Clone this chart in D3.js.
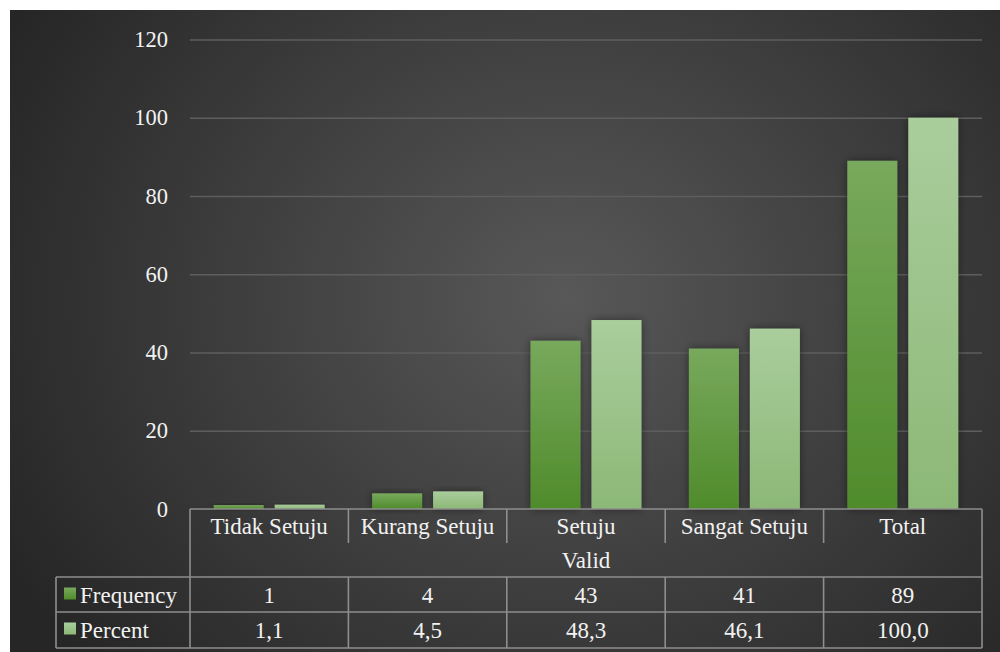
<!DOCTYPE html>
<html>
<head>
<meta charset="utf-8">
<script src="https://cdn.jsdelivr.net/npm/d3@7"></script>
<style>
  html, body { margin: 0; padding: 0; background: #fff; }
  svg { display: block; }
</style>
</head>
<body>
<svg id="chart" width="1000" height="652"></svg>
<script>
// Survey response categories and their counts / shares
const categories = ["Tidak Setuju", "Kurang Setuju", "Setuju", "Sangat Setuju", "Total"];
const groupLabel = "Valid";
const seriesNames = ["Frequency", "Percent"];
const frequency = [1, 4, 43, 41, 89];
const percent = [1.1, 4.5, 48.3, 46.1, 100.0];
const yTicks = [0, 20, 40, 60, 80, 100, 120];

const seriesValues = { Frequency: frequency, Percent: percent };
const fmt = {
  Frequency: d => String(d),
  Percent: d => d.toFixed(1).replace(".", ",")
};

// Pick the first installed Times-like face
function pickFont(cands) {
  const ctx = document.createElement("canvas").getContext("2d");
  const probe = "Frequency Setuju 0123456789 WMil";
  for (const base of ["monospace", "sans-serif"]) {
    ctx.font = `40px ${base}`;
    const w0 = ctx.measureText(probe).width;
    for (const f of cands) {
      ctx.font = `40px "${f}", ${base}`;
      if (Math.abs(ctx.measureText(probe).width - w0) > 0.5) return `"${f}", serif`;
    }
  }
  return "serif";
}
const FONT = pickFont(["Liberation Serif", "Tinos", "Times New Roman", "Noto Serif", "DejaVu Serif"]);

const W = 1000, H = 652;
const svg = d3.select("#chart");
const defs = svg.append("defs");

// Dark backdrop, lighter toward the middle
const bg = defs.append("radialGradient").attr("id", "bg")
  .attr("cx", "0.56").attr("cy", "0.45").attr("r", "0.64")
  .attr("gradientTransform", "translate(0.56,0.45) scale(1,1.35) translate(-0.56,-0.45)");
bg.append("stop").attr("offset", "0").attr("stop-color", "#585858");
bg.append("stop").attr("offset", "1").attr("stop-color", "#262626");

const gradSpec = {
  Frequency: ["#78a95c", "#4f8b2b"],
  Percent: ["#aacd9c", "#8cb877"]
};
Object.entries(gradSpec).forEach(([k, [top, bot]]) => {
  const g = defs.append("linearGradient").attr("id", "g-" + k)
    .attr("x1", 0).attr("y1", 0).attr("x2", 0).attr("y2", 1);
  g.append("stop").attr("offset", "0").attr("stop-color", top);
  g.append("stop").attr("offset", "1").attr("stop-color", bot);
});

const shadow = defs.append("filter").attr("id", "shadow")
  .attr("x", "-30%").attr("y", "-30%").attr("width", "160%").attr("height", "160%");
shadow.append("feDropShadow").attr("dx", 0).attr("dy", 0)
  .attr("stdDeviation", 4).attr("flood-color", "#000").attr("flood-opacity", 0.45);

svg.append("rect").attr("x", 10).attr("y", 10).attr("width", W - 10).attr("height", H - 10)
  .attr("fill", "url(#bg)");

// Layout
const plot = { left: 190, right: 982, top: 39.5, bottom: 509 };
const table = { left: 56, headerBottom: 543, validBottom: 577, freqBottom: 612, bottom: 648 };

const x = d3.scaleBand().domain(categories).range([plot.left, plot.right]).padding(0);
const xs = d3.scaleBand().domain(seriesNames).range([0, x.bandwidth()])
  .paddingInner(0.18).paddingOuter(0.389);
const y = d3.scaleLinear().domain([0, 120]).range([plot.bottom, plot.top]);

// Gridlines and y axis labels
const yAxis = d3.axisLeft(y).tickValues(yTicks).tickSize(-(plot.right - plot.left)).tickPadding(22)
  .tickFormat(d3.format("d"));
const ga = svg.append("g").attr("transform", `translate(${plot.left},0)`).call(yAxis);
ga.attr("font-family", null).attr("font-size", null);
ga.select(".domain").remove();
ga.selectAll(".tick line").attr("stroke", "#5e5e5e").attr("stroke-width", 1.5)
  .filter(d => d === 0).remove();
ga.selectAll(".tick text").attr("font-size", 22.5).attr("fill", "#f2f2f2")
  .style("font-family", FONT);

// Bars
const groups = svg.append("g").selectAll("g").data(categories).join("g")
  .attr("transform", c => `translate(${x(c)},0)`);
groups.selectAll("rect")
  .data((c, i) => seriesNames.map(s => ({ s, v: seriesValues[s][i] })))
  .join("rect")
  .attr("x", d => xs(d.s))
  .attr("width", xs.bandwidth())
  .attr("y", d => y(d.v))
  .attr("height", d => y(0) - y(d.v))
  .attr("fill", d => `url(#g-${d.s})`)
  .attr("filter", "url(#shadow)");

// Data table
const lineColor = "#8e8e8e";
const lines = svg.append("g").attr("stroke", lineColor).attr("stroke-width", 1.6).attr("fill", "none");
const hline = (x1, x2, yy) => lines.append("line").attr("x1", x1).attr("x2", x2).attr("y1", yy).attr("y2", yy);
const vline = (xx, y1, y2) => lines.append("line").attr("x1", xx).attr("x2", xx).attr("y1", y1).attr("y2", y2);

hline(plot.left, plot.right, plot.bottom);
hline(table.left, plot.right, table.validBottom);
hline(table.left, plot.right, table.freqBottom);
hline(table.left, plot.right, table.bottom);
vline(plot.left, plot.bottom, table.bottom);
vline(plot.right, plot.bottom, table.bottom);
vline(table.left, table.validBottom, table.bottom);
categories.slice(1).forEach(c => {
  vline(x(c), plot.bottom, table.headerBottom);
  vline(x(c), table.validBottom, table.bottom);
});

const fs = 23;
const txt = svg.append("g").attr("font-size", fs).attr("text-anchor", "middle")
  .attr("fill", "#f2f2f2").style("font-family", FONT);
txt.selectAll(".cat").data(categories).join("text").attr("class", "cat")
  .attr("x", c => x(c) + x.bandwidth() / 2).attr("y", 534).text(c => c);
txt.append("text").attr("x", (plot.left + plot.right) / 2).attr("y", 568).text(groupLabel);

const rowBase = { Frequency: 602.5, Percent: 637.5 };
const legend = svg.append("g").attr("font-size", fs).attr("fill", "#f2f2f2").style("font-family", FONT);
seriesNames.forEach(s => {
  txt.selectAll(".v-" + s).data(categories).join("text").attr("class", "v-" + s)
    .attr("x", c => x(c) + x.bandwidth() / 2).attr("y", rowBase[s])
    .text((c, i) => fmt[s](seriesValues[s][i]));
  // legend cell: swatch + series name
  legend.append("rect").attr("x", 64).attr("y", rowBase[s] - 15).attr("width", 12).attr("height", 12)
    .attr("fill", `url(#g-${s})`);
  legend.append("text").attr("x", 80).attr("y", rowBase[s]).text(s);
});
</script>
</body>
</html>
